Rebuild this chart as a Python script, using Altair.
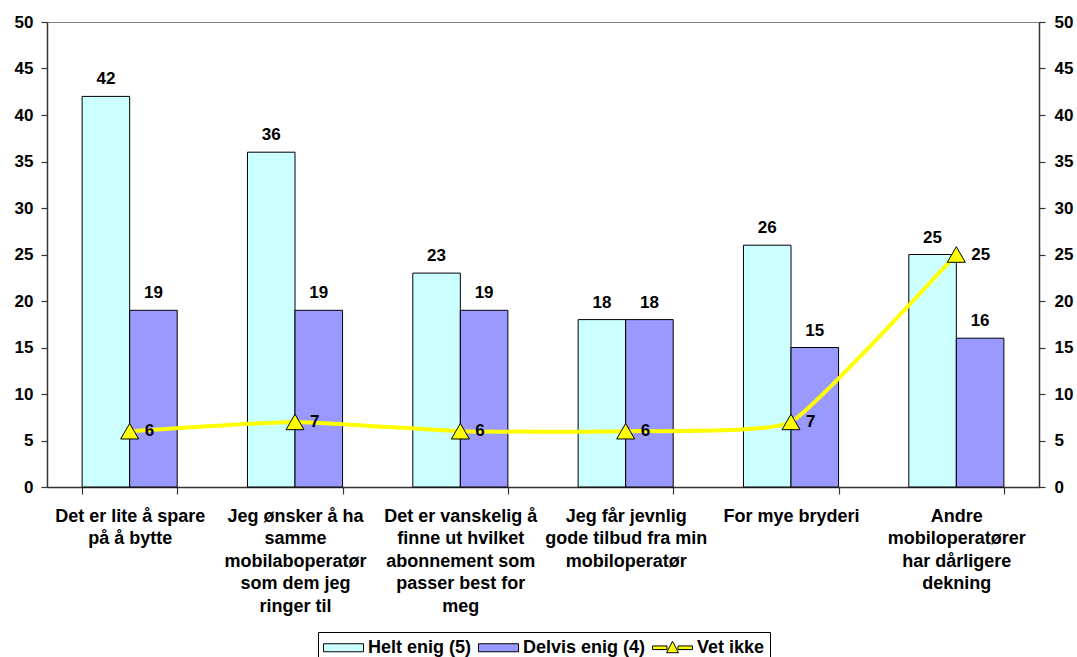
import altair as alt
import pandas as pd

categories = [
    "Det er lite å spare\npå å bytte",
    "Jeg ønsker å ha\nsamme\nmobilaboperatør\nsom dem jeg\nringer til",
    "Det er vanskelig å\nfinne ut hvilket\nabonnement som\npasser best for\nmeg",
    "Jeg får jevnlig\ngode tilbud fra min\nmobiloperatør",
    "For mye bryderi",
    "Andre\nmobiloperatører\nhar dårligere\ndekning",
]
series_names = ["Helt enig (5)", "Delvis enig (4)", "Vet ikke"]
helt_enig = [42, 36, 23, 18, 26, 25]
delvis_enig = [19, 19, 19, 18, 15, 16]
vet_ikke = [6, 7, 6, 6, 7, 25]
y_ticks = [0, 5, 10, 15, 20, 25, 30, 35, 40, 45, 50]
colors = ["#CCFFFF", "#9999FF", "#FFFF00"]

bar_rows = []
for c, a, b in zip(categories, helt_enig, delvis_enig):
    bar_rows.append({"category": c, "series": series_names[0], "value": a})
    bar_rows.append({"category": c, "series": series_names[1], "value": b})
bars_df = pd.DataFrame(bar_rows)
line_df = pd.DataFrame({"category": categories, "series": series_names[2], "value": vet_ikke})

FONT = "Liberation Sans"
FS = 17

x_enc = alt.X(
    "category:N",
    sort=categories,
    scale=alt.Scale(paddingInner=0.425, paddingOuter=0.2125),
    axis=alt.Axis(
        title=None,
        labelAngle=0,
        labelExpr="split(datum.label, '\\n')",
        labelLineHeight=22.5,
        labelLimit=0,
        labelPadding=13,
        tickBand="extent",
        tickSize=7,
        labelFontSize=18,
    ),
)
xoff = alt.XOffset("series:N", sort=series_names[:2], scale=alt.Scale(paddingInner=0, paddingOuter=0))
yscale = alt.Scale(domain=[0, 50], nice=False, zero=True)

# legend symbol paths (unit = 10 px with symbolSize 400); drawn from -10 px to +30 px
rect_path = "M-1,-0.4H3V0.4H-1Z"
vet_path = "M-1,-0.18H0.45V0.18H-1Z M1.55,-0.18H3V0.18H1.55Z M1,-0.65L1.6,0.5H0.4Z"

bars = alt.Chart(bars_df).mark_bar(stroke="black", strokeWidth=1).encode(
    x=x_enc,
    xOffset=xoff,
    y=alt.Y("value:Q", scale=yscale,
            axis=alt.Axis(title=None, values=y_ticks, orient="left", tickSize=6, labelPadding=8)),
    color=alt.Color(
        "series:N",
        scale=alt.Scale(domain=series_names, range=colors),
        legend=alt.Legend(
            title=None,
            orient="none",
            legendX=271,
            legendY=610,
            direction="horizontal",
            strokeColor="black",
            padding=5,
            symbolSize=400,
            symbolType=alt.ExprRef(expr=f"datum.value === 'Vet ikke' ? '{vet_path}' : '{rect_path}'"),
            symbolStrokeColor="black",
            symbolStrokeWidth=1,
            symbolOpacity=1,
            labelFontSize=18,
            labelFont=FONT,
            labelFontWeight="bold",
            labelColor="black",
            labelOffset=24,
            columnPadding=4,
        ),
    ),
)

bar_labels = alt.Chart(bars_df).mark_text(
    font=FONT, fontSize=FS, fontWeight="bold", color="black", baseline="alphabetic", dy=-12
).encode(
    x=x_enc,
    xOffset=xoff,
    y=alt.Y("value:Q", scale=yscale, axis=None),
    text="value:Q",
)

line = alt.Chart(line_df).mark_line(
    color="#FFFF00", strokeWidth=4, interpolate="cardinal", tension=0.6
).encode(
    x=x_enc,
    y=alt.Y("value:Q", scale=yscale,
            axis=alt.Axis(title=None, values=y_ticks, orient="right", tickSize=6, labelPadding=9)),
)

points = alt.Chart(line_df).mark_point(
    shape="triangle-up", filled=True, fill="#FFFF00", stroke="black", strokeWidth=1, size=324, opacity=1
).encode(
    x=x_enc,
    y=alt.Y("value:Q", scale=yscale, axis=None),
)

line_labels = alt.Chart(line_df).mark_text(
    font=FONT, fontSize=FS, fontWeight="bold", color="black", align="left", baseline="middle", dx=15
).encode(
    x=x_enc,
    y=alt.Y("value:Q", scale=yscale, axis=None),
    text="value:Q",
)

chart = (
    alt.layer(bars, line, points, bar_labels, line_labels)
    .resolve_scale(y="independent")
    .properties(
        width=992,
        height=465,
        autosize=alt.AutoSizeParams(type="none"),
        padding={"left": 47, "top": 22, "right": 38, "bottom": 170},
        background="white",
    )
    .configure_view(stroke="#808080", strokeWidth=1)
    .configure_axis(
        grid=False,
        labelFont=FONT,
        labelFontSize=FS,
        labelFontWeight="bold",
        labelColor="black",
        domainColor="#333333",
        domainWidth=1.5,
        tickColor="#333333",
        tickWidth=1.2,
    )
)

chart.save("out.html", embed_options={"renderer": "svg", "actions": False})
